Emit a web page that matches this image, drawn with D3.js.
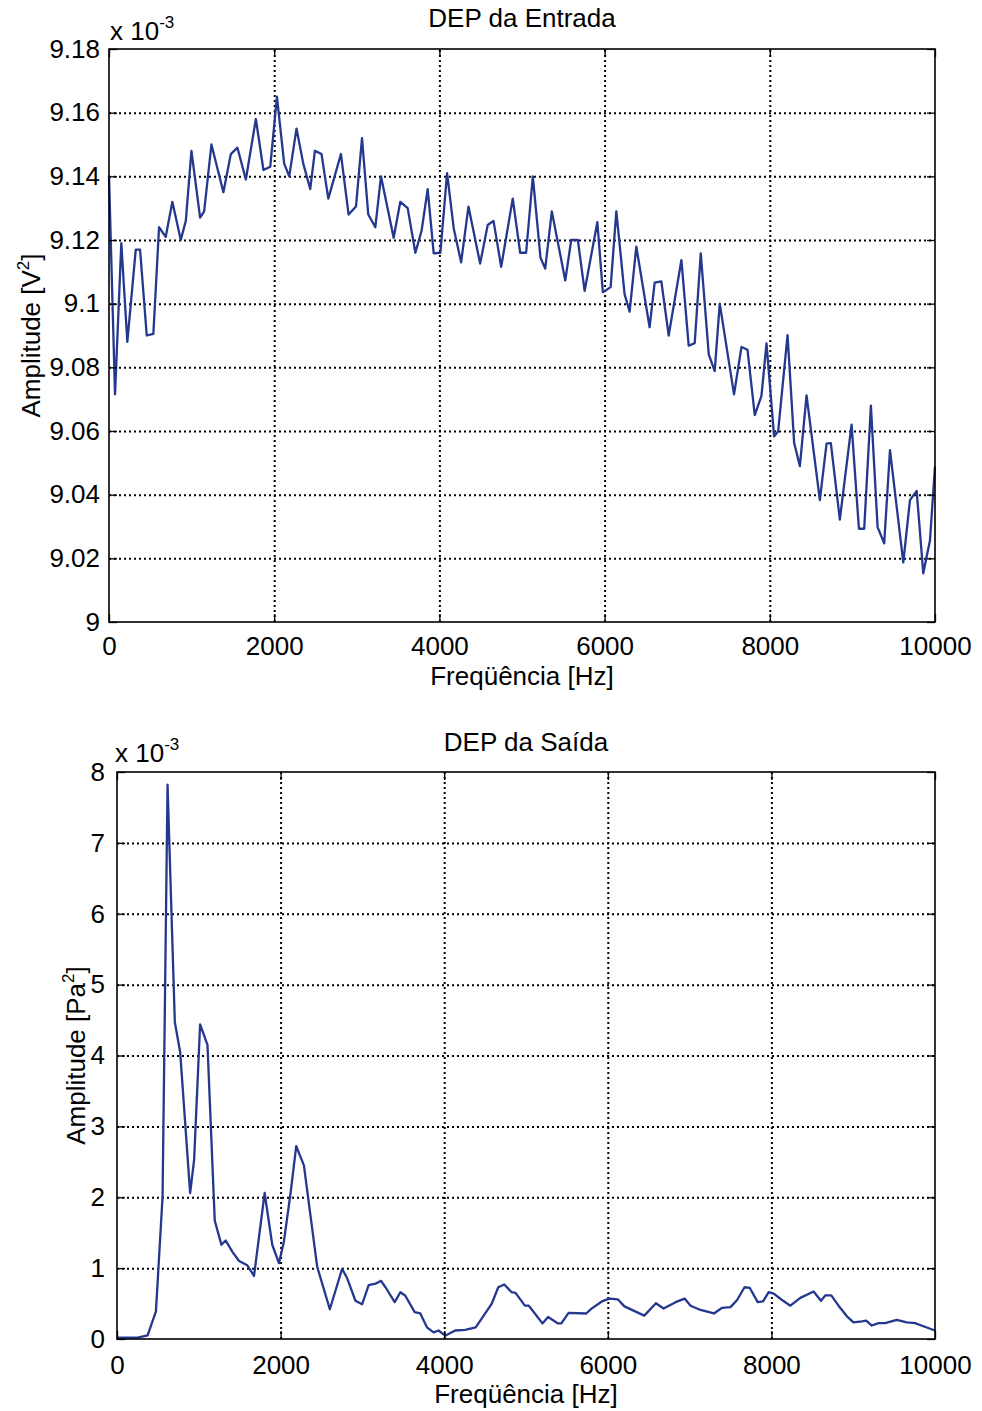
<!DOCTYPE html>
<html>
<head>
<meta charset="utf-8">
<script src="https://cdn.jsdelivr.net/npm/d3@7"></script>
<style>
  body { margin: 0; background: #fff; }
  text { font-family: "Liberation Sans", Arial, Helvetica, sans-serif; fill: #000; }
</style>
</head>
<body>
<div class="canva"></div>
<script>
// values (amplitudes are x 10^-3)
const xTicks = [0, 2000, 4000, 6000, 8000, 10000];
const yTicksIn = [9, 9.02, 9.04, 9.06, 9.08, 9.1, 9.12, 9.14, 9.16, 9.18];
const yTicksOut = [0, 1, 2, 3, 4, 5, 6, 7, 8];

// DEP da Entrada
const freqIn = [
  0, 73, 149, 222, 324, 376, 457, 537, 606, 687,
  767, 869, 930, 998, 1103, 1152, 1240, 1385, 1475, 1555,
  1657, 1778, 1870, 1952, 2033, 2121, 2182, 2270, 2352, 2436,
  2493, 2573, 2655, 2808, 2901, 2990, 3063, 3139, 3224, 3293,
  3446, 3527, 3616, 3709, 3785, 3858, 3931, 4012, 4093, 4173,
  4263, 4352, 4493, 4585, 4655, 4748, 4888, 4978, 5050, 5131,
  5224, 5281, 5361, 5524, 5596, 5676, 5758, 5912, 5979, 6073,
  6142, 6242, 6303, 6384, 6545, 6606, 6687, 6776, 6930, 7018,
  7091, 7164, 7261, 7333, 7394, 7567, 7657, 7730, 7818, 7899,
  7960, 8052, 8101, 8215, 8295, 8364, 8445, 8606, 8687, 8739,
  8848, 8990, 9079, 9143, 9224, 9305, 9385, 9455, 9616, 9697,
  9778, 9858, 9939, 10000
];
const ampIn = [
  9.140, 9.0715, 9.119, 9.088, 9.117, 9.117, 9.090, 9.0905, 9.124, 9.121,
  9.132, 9.120, 9.126, 9.148, 9.127, 9.129, 9.150, 9.135, 9.147, 9.149,
  9.139, 9.158, 9.142, 9.143, 9.165, 9.144, 9.140, 9.155, 9.144, 9.136,
  9.148, 9.147, 9.133, 9.147, 9.128, 9.1305, 9.152, 9.128, 9.124, 9.140,
  9.1207, 9.132, 9.130, 9.116, 9.123, 9.136, 9.1158, 9.116, 9.141, 9.1237,
  9.113, 9.1305, 9.1126, 9.1247, 9.126, 9.1116, 9.133, 9.116, 9.116, 9.140,
  9.1144, 9.111, 9.129, 9.1073, 9.120, 9.120, 9.104, 9.1256, 9.1036, 9.1052,
  9.129, 9.103, 9.0975, 9.1179, 9.0926, 9.1066, 9.107, 9.090, 9.1137, 9.0868,
  9.0876, 9.1158, 9.0841, 9.0788, 9.100, 9.0715, 9.0864, 9.0855, 9.065, 9.071,
  9.0875, 9.0583, 9.0599, 9.0901, 9.0562, 9.049, 9.0712, 9.0383, 9.056, 9.0562,
  9.0322, 9.062, 9.0293, 9.0293, 9.068, 9.0298, 9.0247, 9.054, 9.0187, 9.0383,
  9.0412, 9.0153, 9.0256, 9.0488
];

// DEP da Saida
const freqOut = [
  0, 252, 374, 476, 557, 618, 707, 772, 894, 943,
  1016, 1106, 1195, 1276, 1329, 1411, 1492, 1593, 1675, 1805,
  1898, 1980, 2041, 2122, 2191, 2285, 2447, 2602, 2752, 2813,
  2915, 2996, 3077, 3159, 3228, 3282, 3395, 3464, 3525, 3639,
  3708, 3789, 3870, 3931, 4012, 4134, 4256, 4385, 4580, 4661,
  4734, 4824, 4872, 4986, 5035, 5201, 5270, 5392, 5432, 5521,
  5736, 5797, 5927, 6020, 6122, 6203, 6446, 6588, 6682, 6829,
  6939, 7012, 7134, 7297, 7398, 7500, 7581, 7671, 7736, 7833,
  7898, 7967, 8028, 8130, 8232, 8354, 8516, 8606, 8659, 8732,
  8821, 8923, 9004, 9106, 9159, 9228, 9309, 9390, 9533, 9654,
  9756, 9858, 10000
];
const ampOut = [
  0.02, 0.02, 0.05, 0.39, 2.01, 7.82, 4.47, 4.05, 2.06, 2.53,
  4.44, 4.15, 1.67, 1.33, 1.39, 1.23, 1.10, 1.04, 0.89, 2.06,
  1.33, 1.07, 1.38, 2.06, 2.72, 2.45, 1.02, 0.42, 0.99, 0.86,
  0.54, 0.49, 0.76, 0.78, 0.82, 0.73, 0.52, 0.66, 0.61, 0.38,
  0.36, 0.165, 0.094, 0.12, 0.047, 0.12, 0.13, 0.165, 0.495, 0.73,
  0.77, 0.66, 0.65, 0.47, 0.47, 0.22, 0.31, 0.22, 0.22, 0.37,
  0.36, 0.425, 0.53, 0.57, 0.56, 0.46, 0.33, 0.505, 0.43, 0.52,
  0.57, 0.47, 0.41, 0.36, 0.44, 0.45, 0.55, 0.73, 0.72, 0.52,
  0.53, 0.66, 0.64, 0.55, 0.47, 0.58, 0.67, 0.54, 0.615, 0.615,
  0.47, 0.32, 0.235, 0.25, 0.26, 0.19, 0.225, 0.225, 0.27, 0.235,
  0.225, 0.18, 0.12
];

const FONT = 26;
const lineColor = '#24388f';

const svg = d3.select('.canva').append('svg')
  .attr('width', 982)
  .attr('height', 1411);

svg.append('rect').attr('width', 982).attr('height', 1411).attr('fill', '#fff');

function styleAxis(sel) {
  sel.attr('font-family', '"Liberation Sans", Arial, sans-serif')
     .attr('font-size', FONT);
  sel.select('.domain').remove();
  sel.selectAll('.tick line').attr('stroke', '#000').attr('stroke-width', 1.3);
}

function drawPanel(o) {
  const x = d3.scaleLinear().domain([0, 10000]).range([o.left, o.right]);
  const y = d3.scaleLinear().domain(o.yDomain).range([o.bottom, o.top]);
  const g = svg.append('g');
  const h = o.bottom - o.top, w = o.right - o.left;

  // dotted grid
  g.append('g')
    .attr('transform', `translate(0,${o.bottom})`)
    .call(d3.axisBottom(x).tickValues(xTicks.slice(1, -1)).tickSize(-h).tickFormat(''))
    .call(s => s.select('.domain').remove())
    .selectAll('line')
      .attr('stroke', '#000').attr('stroke-width', 2).attr('stroke-dasharray', '2,3');

  g.append('g')
    .attr('transform', `translate(${o.left},0)`)
    .call(d3.axisLeft(y).tickValues(o.yTicks.slice(1, -1)).tickSize(-w).tickFormat(''))
    .call(s => s.select('.domain').remove())
    .selectAll('line')
      .attr('stroke', '#000').attr('stroke-width', 2).attr('stroke-dasharray', '2,3');

  // data line
  const line = d3.line().x(d => x(d[0])).y(d => y(d[1]));
  g.append('path')
    .datum(d3.zip(o.freq, o.amp))
    .attr('d', line)
    .attr('fill', 'none')
    .attr('stroke', lineColor)
    .attr('stroke-width', 2.3)
    .attr('stroke-linejoin', 'round');

  // frame
  g.append('rect')
    .attr('x', o.left).attr('y', o.top)
    .attr('width', w).attr('height', h)
    .attr('fill', 'none').attr('stroke', '#000').attr('stroke-width', 1.6);

  // ticks inward on all four sides, labels bottom and left
  g.append('g').attr('transform', `translate(0,${o.bottom})`)
    .call(d3.axisBottom(x).tickValues(xTicks).tickSize(-8).tickPadding(o.xPad)
      .tickFormat(d3.format('d')))
    .call(styleAxis);
  g.append('g').attr('transform', `translate(${o.left},0)`)
    .call(d3.axisLeft(y).tickValues(o.yTicks).tickSize(-8).tickPadding(o.yPad)
      .tickFormat(d => String(+d.toFixed(2))))
    .call(styleAxis);
  g.append('g').attr('transform', `translate(0,${o.top})`)
    .call(d3.axisTop(x).tickValues(xTicks).tickSize(-8).tickFormat(''))
    .call(styleAxis);
  g.append('g').attr('transform', `translate(${o.right},0)`)
    .call(d3.axisRight(y).tickValues(o.yTicks).tickSize(-8).tickFormat(''))
    .call(styleAxis);

  const cx = (o.left + o.right) / 2;

  // title
  svg.append('text')
    .attr('x', cx).attr('y', o.titleY)
    .attr('text-anchor', 'middle')
    .attr('font-size', FONT)
    .text(o.title);

  // exponent label
  const ex = svg.append('text')
    .attr('x', o.expX).attr('y', o.expY)
    .attr('font-size', FONT)
    .text('x 10');
  ex.append('tspan').attr('dy', -12).attr('font-size', 17).text('-3');

  // x label
  svg.append('text')
    .attr('x', cx).attr('y', o.xLabelY)
    .attr('text-anchor', 'middle')
    .attr('font-size', FONT)
    .text('Freqüência [Hz]');

  // y label
  const yl = svg.append('text')
    .attr('transform', `translate(${o.yLabelX},${(o.top + o.bottom) / 2}) rotate(-90)`)
    .attr('text-anchor', 'middle')
    .attr('font-size', FONT)
    .text(o.yLabel);
  yl.append('tspan').attr('dy', -11).attr('font-size', 17).text('2');
  yl.append('tspan').attr('dy', 11).text(']');
}

drawPanel({
  left: 109, right: 935, top: 49, bottom: 622,
  yDomain: [9, 9.18], yTicks: yTicksIn,
  freq: freqIn, amp: ampIn,
  xPad: 15, yPad: 9,
  title: 'DEP da Entrada', titleY: 27,
  expX: 110, expY: 40,
  xLabelY: 685,
  yLabel: 'Amplitude [V', yLabelX: 40
});

drawPanel({
  left: 117, right: 935, top: 772, bottom: 1339,
  yDomain: [0, 8], yTicks: yTicksOut,
  freq: freqOut, amp: ampOut,
  xPad: 17, yPad: 12,
  title: 'DEP da Saída', titleY: 751,
  expX: 115, expY: 762,
  xLabelY: 1403,
  yLabel: 'Amplitude [Pa', yLabelX: 85
});
</script>
</body>
</html>
